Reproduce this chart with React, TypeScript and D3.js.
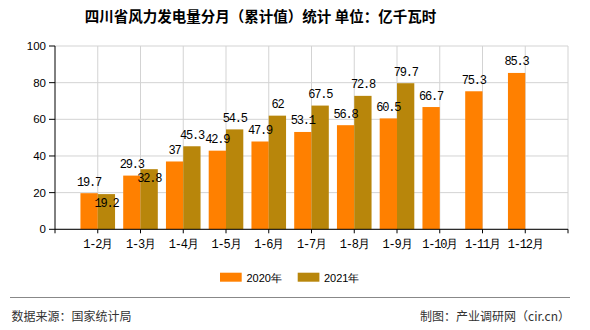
import React from 'react';
import * as d3 from 'd3';

const categories = ['1-2月', '1-3月', '1-4月', '1-5月', '1-6月', '1-7月', '1-8月', '1-9月', '1-10月', '1-11月', '1-12月'];
const values2020: (number | null)[] = [19.7, 29.3, 37, 42.9, 47.9, 53.1, 56.8, 60.5, 66.7, 75.3, 85.3];
const values2021: (number | null)[] = [19.2, 32.8, 45.3, 54.5, 62, 67.5, 72.8, 79.7, null, null, null];
const yTicks = [0, 20, 40, 60, 80, 100];
const seriesNames = ['2020年', '2021年'];

const COLORS = ['#FF8000', '#B8860B'];
const W = 590, H = 330;
const L = 55, R = 568, T = 46, B = 229.3;
const BAR_W = 17.3;

export default function App() {
  const xDomain = ['__start', ...categories, '__end'];
  const x = d3.scalePoint<string>().domain(xDomain).range([L, R]);
  const y = d3.scaleLinear().domain([0, 100]).range([B, T]);
  const mono = '"Liberation Mono", "DejaVu Sans Mono", monospace';
  const sans = '"Liberation Sans", Arial, sans-serif';
  const cjk = '"Noto Sans CJK SC", sans-serif';

  const labels: JSX.Element[] = [];
  categories.forEach((c, i) => {
    const xc = x(c)!;
    const a = values2020[i];
    const b = values2021[i];
    let aY: number | null = null;
    if (a != null) {
      aY = y(a) - 7.5;
      labels.push(
        <text key={'a' + i} x={xc - BAR_W / 2} y={aY} textAnchor="middle" fontFamily={mono} fontSize={12} letterSpacing={-1.2} fill="#000">{String(a)}</text>
      );
    }
    if (b != null) {
      let bY = y(b) - 7.5;
      if (aY != null && Math.abs(aY - bY) < 13) bY = y(b) + 12.5;
      labels.push(
        <text key={'b' + i} x={xc + BAR_W / 2} y={bY} textAnchor="middle" fontFamily={mono} fontSize={12} letterSpacing={-1.2} fill="#000">{String(b)}</text>
      );
    }
  });

  return (
    <svg width={W} height={H} style={{ position: 'absolute', left: 0, top: 0, background: '#fff' }}>
      <rect x={0} y={0} width={W} height={H} fill="#fff" />
      <text x={260.5} y={22} textAnchor="middle" fontFamily={cjk} fontSize={14.5} fontWeight="bold" fill="#000">四川省风力发电量分月（累计值）统计 单位：亿千瓦时</text>

      {/* grid */}
      {yTicks.map(t => (
        <line key={'gy' + t} x1={L} x2={R} y1={y(t)} y2={y(t)} stroke="#d3d3d3" strokeWidth={1} />
      ))}
      {xDomain.slice(1).map(d => (
        <line key={'gx' + d} x1={x(d)!} x2={x(d)!} y1={T} y2={B} stroke="#d3d3d3" strokeWidth={1} />
      ))}

      {/* bars */}
      {categories.map((c, i) => {
        const xc = x(c)!;
        const a = values2020[i];
        const b = values2021[i];
        return (
          <g key={'bar' + i}>
            {a != null && <rect x={xc - BAR_W} y={y(a)} width={BAR_W} height={B - y(a)} fill={COLORS[0]} />}
            {b != null && <rect x={xc} y={y(b)} width={BAR_W} height={B - y(b)} fill={COLORS[1]} />}
          </g>
        );
      })}

      {/* axes */}
      <line x1={L} x2={L} y1={T} y2={B} stroke="#000" />
      {yTicks.map(t => (
        <g key={'yt' + t}>
          <line x1={L - 6} x2={L} y1={y(t)} y2={y(t)} stroke="#000" />
          <text x={46} y={y(t) + 4} textAnchor="end" fontFamily={sans} fontSize={11.5} fill="#000">{t}</text>
        </g>
      ))}
      <line x1={L} x2={R} y1={B} y2={B} stroke="#000" />
      {xDomain.map(d => (
        <line key={'xt' + d} x1={x(d)!} x2={x(d)!} y1={B} y2={B + 4} stroke="#000" />
      ))}
      {categories.map(c => (
        <text key={'xl' + c} x={x(c)!} y={247.5} textAnchor="middle" fontFamily={mono} fontSize={12} letterSpacing={-1.2} fill="#000">{c}</text>
      ))}

      {labels}

      {/* legend */}
      <rect x={220} y={272.7} width={21.7} height={9} fill={COLORS[0]} />
      <text x={246.5} y={281.5} fontFamily={sans} fontSize={11} fill="#000">{seriesNames[0]}</text>
      <rect x={297.7} y={272.7} width={21.7} height={9} fill={COLORS[1]} />
      <text x={324} y={281.5} fontFamily={sans} fontSize={11} fill="#000">{seriesNames[1]}</text>

      {/* footer */}
      <line x1={10} x2={570} y1={297.5} y2={297.5} stroke="#888" strokeWidth={1.2} />
      <text x={11.5} y={320.5} fontFamily={cjk} fontSize={12} fill="#333">数据来源：国家统计局</text>
      <text x={570} y={320.5} textAnchor="end" fontFamily={cjk} fontSize={12} fill="#333">制图：产业调研网（cir.cn）</text>
    </svg>
  );
}
